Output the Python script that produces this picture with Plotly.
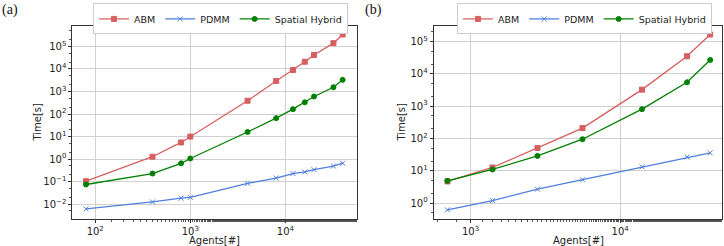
import plotly.graph_objects as go

# ---- data ----
agents_a = [80, 400, 800, 1000, 4000, 8000, 12000, 16000, 20000, 32000, 40000]
abm_a = [0.105, 1.28, 5.5, 10, 390, 2950, 9000, 21000, 42000, 140000, 340000]
pdmm_a = [0.0062, 0.0126, 0.0185, 0.02, 0.084, 0.145, 0.23, 0.27, 0.34, 0.49, 0.66]
hybrid_a = [0.075, 0.23, 0.65, 1.07, 16, 66, 165, 330, 600, 1550, 3300]

agents_b = [700, 1400, 2800, 5600, 14000, 28000, 40000]
abm_b = [4.7, 12.7, 51, 210, 3250, 35000, 165000]
pdmm_b = [0.62, 1.2, 2.7, 5.3, 13.3, 26.6, 36]
hybrid_b = [4.9, 11, 29, 95, 810, 5500, 27000]

series_names = ["ABM", "PDMM", "Spatial Hybrid"]

x_tick_vals_a = [100, 1000, 10000]
x_tick_text_a = ["10<sup>2</sup>", "10<sup>3</sup>", "10<sup>4</sup>"]
y_tick_vals_a = [0.01, 0.1, 1, 10, 100, 1000, 10000, 100000]
y_tick_text_a = ["10<sup>−2</sup>", "10<sup>−1</sup>", "10<sup>0</sup>", "10<sup>1</sup>",
                 "10<sup>2</sup>", "10<sup>3</sup>", "10<sup>4</sup>", "10<sup>5</sup>"]
x_tick_vals_b = [1000, 10000]
x_tick_text_b = ["10<sup>3</sup>", "10<sup>4</sup>"]
y_tick_vals_b = [1, 10, 100, 1000, 10000, 100000]
y_tick_text_b = ["10<sup>0</sup>", "10<sup>1</sup>", "10<sup>2</sup>",
                 "10<sup>3</sup>", "10<sup>4</sup>", "10<sup>5</sup>"]

colors = ["#d65f5f", "#4f7fdc", "#008000"]
symbols = ["square", "x-thin", "circle"]
msizes = [5, 5, 5]

FONT = "DejaVu Sans"
FS = 9.5

fig = go.Figure()

panels = [
    (agents_a, [abm_a, pdmm_a, hybrid_a], "x", "y", "legend"),
    (agents_b, [abm_b, pdmm_b, hybrid_b], "x2", "y2", "legend2"),
]
for xs, ys_list, xa, ya, lg in panels:
    for name, ys, c, s, ms in zip(series_names, ys_list, colors, symbols, msizes):
        fig.add_trace(go.Scatter(
            x=xs, y=ys, name=name, mode="lines+markers",
            line=dict(color=c, width=1.3),
            marker=dict(symbol=s, size=ms, color=c,
                        line=dict(color=c, width=1)),
            xaxis=xa, yaxis=ya, legend=lg,
        ))

ydom = [0.1085, 0.8955]
common_axis = dict(
    type="log", showline=True, linecolor="#333", linewidth=1, mirror=True,
    showgrid=True, gridcolor="#d0d0d0", gridwidth=1,
    ticks="outside", ticklen=3, tickcolor="#333",
    tickfont=dict(family=FONT, size=FS + 0.5, color="#222"),
    zeroline=False, tickmode="array",
    minor=dict(ticks="outside", ticklen=2, tickcolor="#555", showgrid=False),
)

legend_common = dict(orientation="h", y=0.986, xanchor="left", yanchor="top",
                     bordercolor="#cccccc", borderwidth=1, bgcolor="white",
                     font=dict(family=FONT, size=FS), itemwidth=30)

fig.update_layout(
    width=724, height=246,
    margin=dict(l=0, r=0, t=0, b=0),
    paper_bgcolor="white", plot_bgcolor="white",
    font=dict(family=FONT, size=FS, color="#222"),
    xaxis=dict(common_axis, domain=[0.1, 0.4927], range=[1.76, 4.75],
               tickvals=x_tick_vals_a, ticktext=x_tick_text_a),
    yaxis=dict(common_axis, domain=ydom, range=[-2.67, 5.92],
               tickvals=y_tick_vals_a, ticktext=y_tick_text_a),
    xaxis2=dict(common_axis, domain=[0.599, 0.997], range=[2.753, 4.68],
                anchor="y2", tickvals=x_tick_vals_b, ticktext=x_tick_text_b),
    yaxis2=dict(common_axis, domain=ydom, range=[-0.5, 5.49], anchor="x2",
                tickvals=y_tick_vals_b, ticktext=y_tick_text_b),
    legend=dict(legend_common, x=93 / 724),
    legend2=dict(legend_common, x=457 / 724),
    annotations=[
        dict(text="(a)", x=0.0, y=1.0, xref="paper", yref="paper",
             xanchor="left", yanchor="top", showarrow=False,
             font=dict(family="Liberation Serif", size=14, color="#111")),
        dict(text="(b)", x=0.501, y=1.0, xref="paper", yref="paper",
             xanchor="left", yanchor="top", showarrow=False,
             font=dict(family="Liberation Serif", size=14, color="#111")),
        dict(text="Agents[#]", x=214.5 / 724, y=1 - 240 / 246, xref="paper",
             yref="paper", xanchor="center", yanchor="middle", showarrow=False,
             font=dict(family=FONT, size=FS + 0.5)),
        dict(text="Agents[#]", x=578 / 724, y=1 - 240 / 246, xref="paper",
             yref="paper", xanchor="center", yanchor="middle", showarrow=False,
             font=dict(family=FONT, size=FS + 0.5)),
        dict(text="Time[s]", x=37 / 724, y=1 - 122.5 / 246, xref="paper",
             yref="paper", xanchor="center", yanchor="middle", showarrow=False,
             textangle=-90, font=dict(family=FONT, size=FS + 0.5)),
        dict(text="Time[s]", x=401 / 724, y=1 - 122.5 / 246, xref="paper",
             yref="paper", xanchor="center", yanchor="middle", showarrow=False,
             textangle=-90, font=dict(family=FONT, size=FS + 0.5)),
    ],
)

fig.write_html(
    "out.html",
    config={"displayModeBar": False},
    post_script="document.body.style.margin='0';document.body.style.overflow='hidden';",
)
